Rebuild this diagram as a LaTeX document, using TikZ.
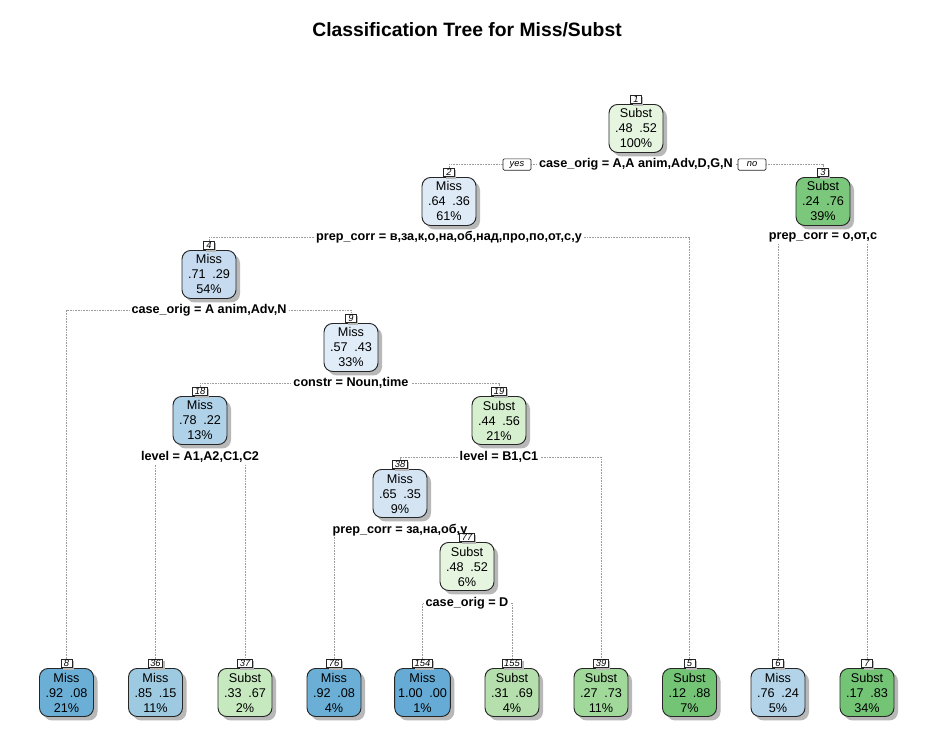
\documentclass[tikz,border=0pt]{standalone}
\usepackage{fontspec}
\setmainfont{Liberation Sans}
\usetikzlibrary{shadows,backgrounds}
\definecolor{g52}{HTML}{E5F5E0}
\definecolor{g56}{HTML}{D6EFCF}
\definecolor{g67}{HTML}{C7E9C0}
\definecolor{g69}{HTML}{B5E0AD}
\definecolor{g73}{HTML}{A1D99B}
\definecolor{g76}{HTML}{7BC77C}
\definecolor{g85}{HTML}{74C476}
\definecolor{b57}{HTML}{E0ECF8}
\definecolor{b64}{HTML}{DEEBF7}
\definecolor{b65}{HTML}{D4E4F3}
\definecolor{b71}{HTML}{C6DBEF}
\definecolor{b76}{HTML}{B3D3E8}
\definecolor{b78}{HTML}{B0D2E8}
\definecolor{b85}{HTML}{9ECAE1}
\definecolor{b92}{HTML}{6BAED6}
\definecolor{b100}{HTML}{65ABD5}
\definecolor{shad}{HTML}{B8B8B8}
\definecolor{brc}{HTML}{9C9C9C}
\newcommand{\tnode}[8]{%
  \node[tn, fill=#4] (n#1) at (#2,#3) {#5\\#6\hspace{5pt}#7\\#8\%};
  \node[num] (k#1) at (n#1.north) {#1};}
\begin{document}
\begin{tikzpicture}[x=0.75pt,y=-0.75pt,
  tn/.style={draw=black!85, line width=0.7pt, rounded corners=6.5pt,
    minimum width=40.5pt, minimum height=36pt, inner xsep=2.5pt, inner ysep=1pt,
    align=center, anchor=north, font=\fontsize{9.5}{11.25}\selectfont,
    drop shadow={shadow xshift=3pt, shadow yshift=-3pt, fill=shad, opacity=1}},
  num/.style={draw=black!85, fill=white, line width=0.5pt, anchor=south,
    inner xsep=1.5pt, inner ysep=0.7pt, text height=5.2pt, text depth=0pt,
    minimum width=8pt, font=\fontsize{7}{7}\selectfont\itshape,
    drop shadow={shadow xshift=1.5pt, shadow yshift=-1.5pt, fill=shad, opacity=1}},
  split/.style={fill=white, inner xsep=1.5pt, inner ysep=1pt,
    font=\fontsize{9.5}{11}\selectfont\bfseries},
  yn/.style={draw=black!85, fill=white, line width=0.5pt, rounded corners=1pt,
    minimum width=21pt, minimum height=8.5pt, inner sep=0pt,
    font=\fontsize{7}{7}\selectfont\itshape},
  br/.style={draw=brc, line width=0.45pt, dash pattern=on 1.2pt off 0.8pt}]
\useasboundingbox (0,0) rectangle (925,732);

\node (title) at (467,30) {\fontsize{14.5}{16}\selectfont\bfseries Classification Tree for Miss/Subst};

% split labels (drawn before nodes)
\node[split] (s1) at (636,164) {case\_orig = A,A anim,Adv,D,G,N};
\node[yn] (yes) at (517,164.5) {yes};
\node[yn] (no) at (752,164.5) {no};
\node[split] (s2) at (449,237) {prep\_corr = в,за,к,о,на,об,над,про,по,от,с,у};
\node[split] (s3) at (823,237) {prep\_corr = о,от,с};
\node[split] (s4) at (209,310) {case\_orig = A anim,Adv,N};
\node[split] (s9) at (351,383) {constr = Noun,time};
\node[split] (s18) at (200,457) {level = A1,A2,C1,C2};
\node[split] (s19) at (499,457) {level = B1,C1};
\node[split] (s38) at (400,530) {prep\_corr = за,на,об,у};
\node[split] (s77) at (467,603) {case\_orig = D};

% inner nodes
\tnode{1}{636}{104}{g52}{Subst}{.48}{.52}{100}
\tnode{2}{449}{177}{b64}{Miss}{.64}{.36}{61}
\tnode{3}{823}{177}{g76}{Subst}{.24}{.76}{39}
\tnode{4}{209}{250}{b71}{Miss}{.71}{.29}{54}
\tnode{9}{351}{323}{b57}{Miss}{.57}{.43}{33}
\tnode{18}{200}{396}{b78}{Miss}{.78}{.22}{13}
\tnode{19}{499}{396}{g56}{Subst}{.44}{.56}{21}
\tnode{38}{400}{469}{b65}{Miss}{.65}{.35}{9}
\tnode{77}{467}{542}{g52}{Subst}{.48}{.52}{6}
% leaves
\tnode{8}{66.5}{668}{b92}{Miss}{.92}{.08}{21}
\tnode{36}{155.5}{668}{b85}{Miss}{.85}{.15}{11}
\tnode{37}{245}{668}{g67}{Subst}{.33}{.67}{2}
\tnode{76}{334}{668}{b92}{Miss}{.92}{.08}{4}
\tnode{154}{422.5}{668}{b100}{Miss}{1.00}{.00}{1}
\tnode{155}{512}{668}{g69}{Subst}{.31}{.69}{4}
\tnode{39}{601}{668}{g73}{Subst}{.27}{.73}{11}
\tnode{5}{689.5}{668}{g85}{Subst}{.12}{.88}{7}
\tnode{6}{778}{668}{b76}{Miss}{.76}{.24}{5}
\tnode{7}{867}{668}{g85}{Subst}{.17}{.83}{34}

\begin{scope}[on background layer]
\fill[white] (0,0) rectangle (925,732);
\draw[br] (k2.north) |- (s1.center) -| (k3.north);
\draw[br] (k4.north) |- (s2.center) -| (k5.north);
\draw[br] (k6.north) |- (s3.center) -| (k7.north);
\draw[br] (k8.north) |- (s4.center) -| (k9.north);
\draw[br] (k18.north) |- (s9.center) -| (k19.north);
\draw[br] (k36.north) |- (s18.center) -| (k37.north);
\draw[br] (k38.north) |- (s19.center) -| (k39.north);
\draw[br] (k76.north) |- (s38.center) -| (k77.north);
\draw[br] (k154.north) |- (s77.center) -| (k155.north);
\end{scope}
\end{tikzpicture}
\end{document}
